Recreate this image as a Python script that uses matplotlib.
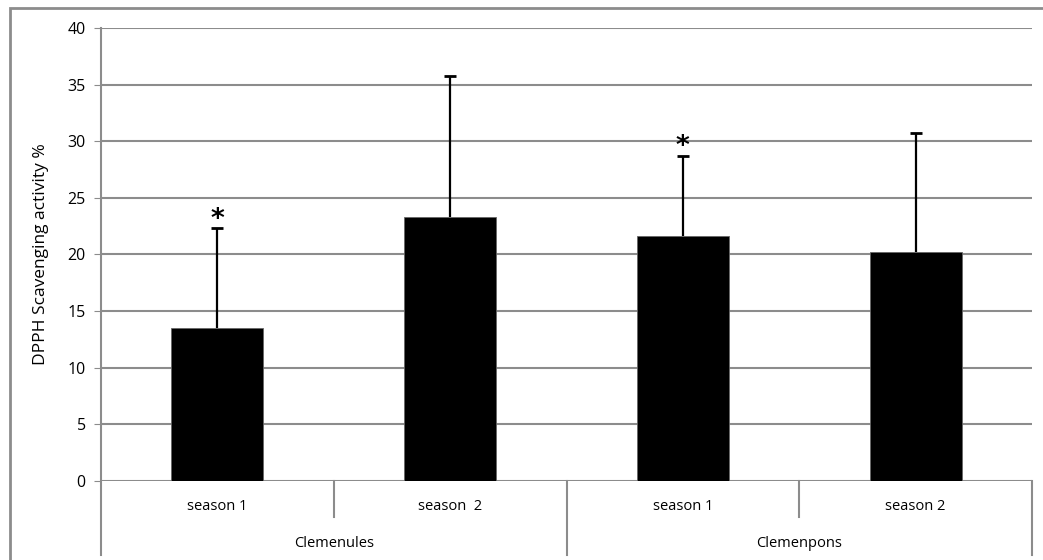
import matplotlib.pyplot as plt
from matplotlib.patches import Rectangle
import matplotlib.transforms as mtransforms

seasons = ["season 1", "season  2", "season 1", "season 2"]
cultivars = ["Clemenules", "Clemenpons"]
means = [13.5, 23.3, 21.6, 20.2]
upper_err = [8.8, 12.5, 7.1, 10.5]
significant = [True, False, True, False]

plt.rcParams['font.family'] = ['Open Sans', 'DejaVu Sans']

fig = plt.figure(figsize=(10.43, 5.6), dpi=100)
ax = fig.add_axes([101 / 1043, 1 - 481 / 560, 931 / 1043, 453 / 560])

grey = '#8c8c8c'
x = list(range(len(means)))
tops = [m + e for m, e in zip(means, upper_err)]
ax.bar(x, means, width=0.395, color='black', edgecolor='#666666', linewidth=0.6, zorder=3)
ax.errorbar(x, means, yerr=[[0] * len(means), upper_err], fmt='none',
            ecolor='black', elinewidth=1.6, capsize=0, zorder=4)
ax.plot(x, tops, ls='none', marker='_', ms=8.5, mew=2, color='black', zorder=4)

for i, flag in enumerate(significant):
    if flag:
        ax.text(i, tops[i] + 0.15, '*', ha='center', va='baseline',
                fontsize=19, fontweight='bold', family='DejaVu Sans')

ax.set_xlim(-0.5, len(means) - 0.5)
ax.set_ylim(0, 40)
ax.set_yticks(range(0, 41, 5))
ax.tick_params(axis='y', labelsize=11.5, length=5, color=grey, pad=6)
ax.tick_params(axis='x', bottom=False, labelbottom=False)
ax.yaxis.grid(True, color=grey, linewidth=1.5, zorder=0)
ax.set_axisbelow(True)
for side in ['top', 'right', 'bottom', 'left']:
    ax.spines[side].set_visible(False)

ax.set_ylabel('DPPH Scavenging activity %', fontsize=12.5, labelpad=13)

# two-level category axis
trans = mtransforms.blended_transform_factory(ax.transData, ax.transAxes)
ax.plot([-0.5, -0.5], [-0.163, 1], color=grey, lw=1.5, transform=trans, clip_on=False)
for sx, depth in [(0.5, -0.0795), (1.5, -0.163), (2.5, -0.0795), (3.5, -0.163)]:
    ax.plot([sx, sx], [depth, 0], color=grey, lw=1.5, transform=trans, clip_on=False)

for i, s in enumerate(seasons):
    ax.text(i, -0.057, s, transform=trans, ha='center', va='center', fontsize=10.5)
for j, c in enumerate(cultivars):
    ax.text(2 * j + 0.5, -0.137, c, transform=trans, ha='center', va='center', fontsize=10.5)

# outer frame of the chart area
fig.patches.append(Rectangle((10 / 1043, -0.1), 1.2, 1 - 8 / 560 + 0.1, transform=fig.transFigure,
                             fill=False, edgecolor=grey, linewidth=2, figure=fig))

fig.savefig('out.png', dpi=100)
